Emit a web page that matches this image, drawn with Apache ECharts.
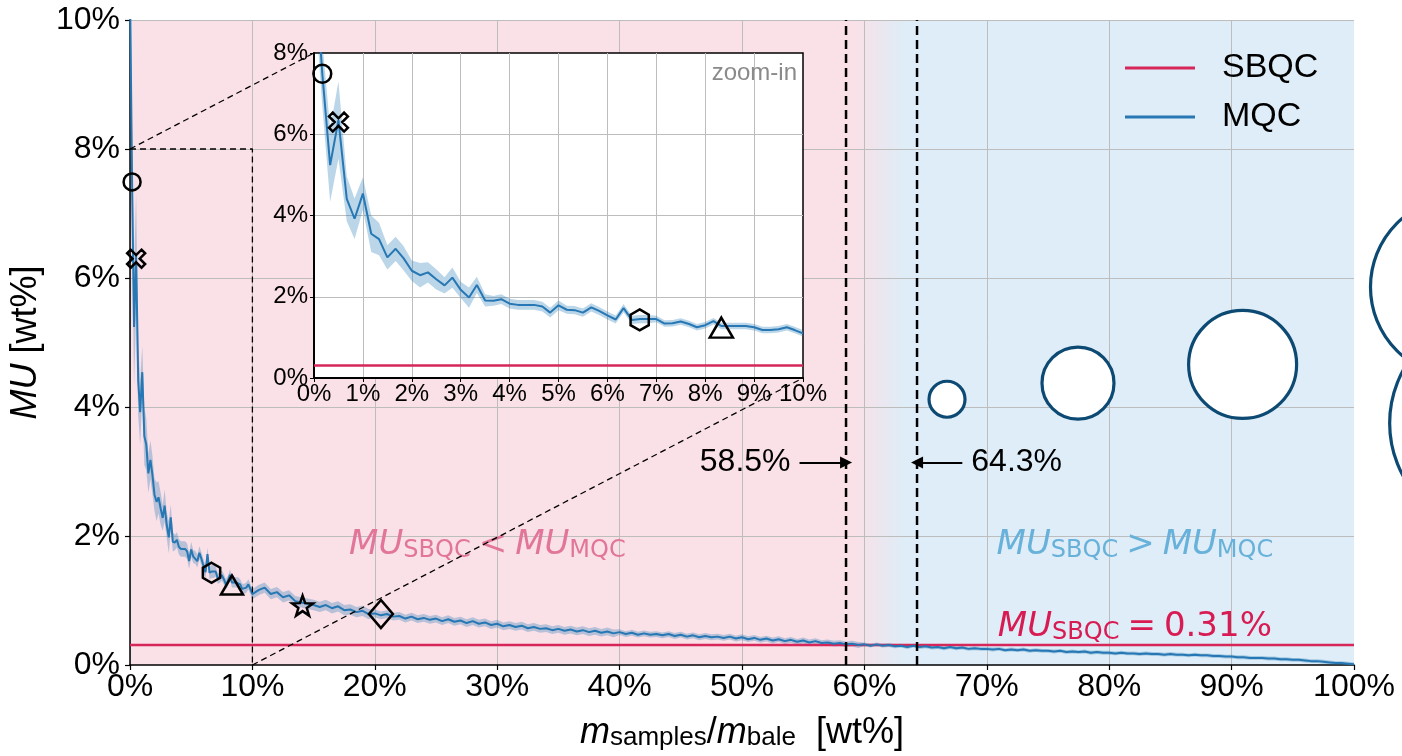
<!DOCTYPE html>
<html><head><meta charset="utf-8">
<script src="https://cdn.jsdelivr.net/npm/echarts@6/dist/echarts.min.js"></script>
<style>html,body{margin:0;padding:0;background:#fff}#c{width:1402px;height:756px}</style>
</head><body><div id="c"></div>
<script>
// ---------------- DATA ----------------
// MQC curve, first 10 % of the bale
const headX = [0,0.17,0.33,0.5,0.67,0.83, 1,1.17,1.33,1.5,1.67,1.83, 2,2.17,2.33,2.5,2.67,2.83,
  3,3.17,3.33,3.5,3.67,3.83, 4,4.17,4.33,4.5,4.67,4.83, 5,5.17,5.33,5.5,5.67,5.83,
  6,6.17,6.33,6.5,6.67,6.83, 7,7.17,7.33,7.5,7.67,7.83, 8,8.17,8.33,8.5,8.67,8.83,
  9,9.17,9.33,9.5,9.67,9.83, 10];
const headMU = [10.5,7.49,5.24,6.35,4.41,3.92, 4.54,3.55,3.42,2.97,3.18,2.95, 2.64,2.53,2.60,2.43,2.28,2.47,
  2.17,1.98,2.29,1.91,1.90,1.94, 1.83,1.80,1.80,1.80,1.76,1.61, 1.79,1.68,1.67,1.61,1.74,1.65,
  1.54,1.44,1.72,1.43,1.45,1.45, 1.45,1.34,1.35,1.39,1.33,1.25, 1.30,1.40,1.28,1.28,1.28,1.28,
  1.25,1.18,1.18,1.20,1.25,1.18, 1.10];
const headBand = [1.0,0.8,0.9,0.95,0.55,0.5, 0.4,0.45,0.4,0.3,0.3,0.3, 0.25,0.3,0.25,0.25,0.2,0.25,
  0.2,0.25,0.2,0.15,0.12,0.12, 0.12,0.12,0.12,0.12,0.12,0.12, 0.12,0.1,0.1,0.1,0.1,0.1,
  0.1,0.1,0.1,0.1,0.1,0.1, 0.08,0.08,0.08,0.08,0.08,0.08, 0.08,0.08,0.08,0.08,0.08,0.08,
  0.08,0.08,0.08,0.08,0.08,0.08, 0.08];
// MQC curve, 10 % .. 100 %
const tailX = [10.5,11,11.5,12,12.5,13,13.5,14,14.5,15,15.5,16,16.5,17,17.5,18,18.5,19,19.5,20,
  20.5,21,21.5,22,22.5,23,23.5,24,24.5,25,25.5,26,26.5,27,27.5,28,28.5,29,29.5,30,
  30.5,31,31.5,32,32.5,33,33.5,34,34.5,35,35.5,36,36.5,37,37.5,38,38.5,39,39.5,40,
  40.5,41,41.5,42,42.5,43,43.5,44,44.5,45,45.5,46,46.5,47,47.5,48,48.5,49,49.5,50,
  50.5,51,51.5,52,52.5,53,53.5,54,54.5,55,55.5,56,56.5,57,57.5,58,58.5,59,59.5,60,
  60.5,61,61.5,62,62.5,63,63.5,64,64.5,65,65.5,66,66.5,67,67.5,68,68.5,69,69.5,70,
  70.5,71,71.5,72,72.5,73,73.5,74,74.5,75,75.5,76,76.5,77,77.5,78,78.5,79,79.5,80,
  80.5,81,81.5,82,82.5,83,83.5,84,84.5,85,85.5,86,86.5,87,87.5,88,88.5,89,89.5,90,
  90.5,91,91.5,92,92.5,93,93.5,94,94.5,95,95.5,96,96.5,97,97.5,98,98.5,99,99.5,100];
const tailMU = [1.16,1.20,1.10,1.13,1.05,1.08,0.99,0.97,0.95,0.93,0.90,0.93,0.88,0.91,0.85,0.86,0.82,0.84,0.79,0.80,
  0.77,0.79,0.75,0.76,0.72,0.75,0.71,0.73,0.70,0.72,0.68,0.71,0.67,0.69,0.65,0.68,0.64,0.66,0.62,0.64,
  0.60,0.62,0.59,0.61,0.57,0.59,0.56,0.57,0.54,0.56,0.53,0.55,0.52,0.54,0.51,0.53,0.50,0.52,0.49,0.51,
  0.48,0.50,0.47,0.49,0.47,0.48,0.46,0.48,0.45,0.47,0.44,0.46,0.43,0.45,0.43,0.44,0.42,0.44,0.41,0.43,
  0.40,0.42,0.39,0.41,0.38,0.40,0.37,0.39,0.36,0.38,0.35,0.37,0.34,0.35,0.33,0.34,0.32,0.33,0.31,0.32,
  0.30,0.32,0.30,0.31,0.29,0.30,0.28,0.30,0.28,0.29,0.27,0.28,0.26,0.28,0.26,0.27,0.25,0.26,0.25,0.25,
  0.24,0.25,0.23,0.24,0.23,0.24,0.22,0.23,0.22,0.22,0.21,0.22,0.20,0.21,0.20,0.21,0.19,0.20,0.19,0.19,
  0.18,0.19,0.18,0.18,0.17,0.18,0.17,0.17,0.16,0.17,0.16,0.16,0.15,0.16,0.15,0.15,0.14,0.14,0.13,0.13,
  0.12,0.12,0.11,0.11,0.11,0.10,0.10,0.09,0.09,0.08,0.08,0.07,0.06,0.06,0.05,0.04,0.03,0.03,0.02,0.01];
// half-width of the MQC uncertainty band in the tail, per x-zone
const bandEdges = [10, 20, 40, 60];
const bandHalfTail = [0.08, 0.06, 0.045, 0.03];

const sbqcMU = 0.31;                 // single-bale QC value
const thresholds = [58.5, 64.3];     // break-even lines
const thresholdLabels = ['58.5%', '64.3%'];
const arrowTail = [54.7, 68.0];      // where each arrow starts (x)
const arrowY = 3.14;

const markerNames = ['circle','cross','hexagon','triangle','star','diamond'];
const markerX = [0.17, 0.5, 6.66, 8.33, 14.1, 20.5];
const markerY = [7.49, 6.3, 1.43, 1.24, 0.92, 0.79];

const bubbleX = [66.75, 77.45, 90.9, 108.7, 111.9];
const bubbleY = [4.12, 4.37, 4.66, 5.86, 3.75];
const bubbleD = [36, 72, 108, 180, 220];

const zoomX = [0, 10];
const zoomY = [0, 8];

const xTicksMain = [0, 100, 10];
const yTicksMain = [0, 10, 2];

const annoX = [29.2, 82.1, 82.1];
const annoY = [1.93, 1.93, 0.66];

// ---------------- STYLE ----------------
const MQC_COLOR = '#2677b3';
const SBQC_COLOR = '#d6265a';
const PINK = '#fae0e7';
const BLUE = '#deedf7';
const GRIDC = '#bdbdbd';
const FONT = 'Liberation Sans, Arial, sans-serif';
const MATH = 'DejaVu Sans, sans-serif';

const symbolPaths = {
  circle: 'circle',
  cross: 'path://M0.53,-0.884 L0.884,-0.53 L0.354,0 L0.884,0.53 L0.53,0.884 L0,0.354 L-0.53,0.884 L-0.884,0.53 L-0.354,0 L-0.884,-0.53 L-0.53,-0.884 L0,-0.354 Z',
  hexagon: 'path://M0,-1 L0.866,-0.5 L0.866,0.5 L0,1 L-0.866,0.5 L-0.866,-0.5 Z',
  triangle: 'triangle',
  star: 'path://M0,-1 L0.235,-0.324 L0.951,-0.309 L0.38,0.124 L0.588,0.809 L0,0.4 L-0.588,0.809 L-0.38,0.124 L-0.951,-0.309 L-0.235,-0.324 Z',
  diamond: 'diamond'
};
const symbolSizes = {circle:17, cross:18, hexagon:20, triangle:[22,19], star:21, diamond:[24,28]};

// ---------------- BUILD ----------------
const mainX = headX.concat(tailX);
const mainMU = headMU.concat(tailMU);
const mainBand = headBand.concat(tailX.map(x => {
  let h = bandHalfTail[0];
  for (let i = 0; i < bandEdges.length; i++) if (x >= bandEdges[i]) h = bandHalfTail[i];
  return h;
}));
const pairs = (xs, ys) => xs.map((x, i) => [x, ys[i]]);

function bandRenderer(xs, ys, hs) {
  return function (params, api) {
    const up = [], lo = [];
    for (let i = 0; i < xs.length; i++) {
      up.push(api.coord([xs[i], ys[i] + hs[i]]));
      lo.push(api.coord([xs[i], ys[i] - hs[i]]));
    }
    return {type: 'polygon', shape: {points: up.concat(lo.reverse())},
      style: {fill: 'rgba(31,119,180,0.30)'}};
  };
}

function markerData(filterFn, scale) {
  const out = [];
  markerNames.forEach((n, i) => {
    if (!filterFn(markerX[i])) return;
    const s = symbolSizes[n];
    out.push({value: [markerX[i], markerY[i]], symbol: symbolPaths[n],
      symbolSize: Array.isArray(s) ? s.map(v => v * scale) : s * scale});
  });
  return out;
}

const annoRich = (c) => ({
  mu: {fontFamily: MATH, fontStyle: 'italic', fontSize: 34, color: c, lineHeight: 44, verticalAlign: 'bottom'},
  up: {fontFamily: MATH, fontSize: 34, color: c, lineHeight: 44, verticalAlign: 'bottom'},
  sb: {fontFamily: MATH, fontSize: 24, color: c, lineHeight: 26, verticalAlign: 'bottom'},
  op: {fontFamily: MATH, fontSize: 34, color: c, lineHeight: 44, verticalAlign: 'bottom', padding: [0, 8, 0, 8]}
});
const annoTexts = [
  {f: '{mu|MU}{sb|SBQC}{op|<}{mu|MU}{sb|MQC}', c: '#e2769a'},
  {f: '{mu|MU}{sb|SBQC}{op|>}{mu|MU}{sb|MQC}', c: '#67b1da'},
  {f: '{mu|MU}{sb|SBQC}{op|=}{up|0.31%}', c: '#d81b52'}
];

const chart = echarts.init(document.getElementById('c'));

const option = {
  animation: false,
  backgroundColor: '#fff',
  grid: [
    {left: 130, top: 20, right: 48, bottom: 88, show: true, borderWidth: 0,
     backgroundColor: {type: 'linear', x: 0, y: 0, x2: 1, y2: 0, global: false,
       colorStops: [{offset: 0, color: PINK}, {offset: 0.592, color: PINK},
                    {offset: 0.633, color: BLUE}, {offset: 1, color: BLUE}]}},
    {left: 314, top: 53, width: 489, height: 325, show: true, backgroundColor: '#fff',
     borderColor: '#000', borderWidth: 1.5, z: 5}
  ],
  legend: {
    orient: 'vertical', left: 1120, top: 43, itemWidth: 70, itemHeight: 3, itemGap: 9,
    icon: 'rect', selectedMode: false,
    textStyle: {fontSize: 34, fontFamily: FONT, color: '#000', padding: [0, 0, 0, 22], lineHeight: 40},
    data: [{name: 'SBQC', itemStyle: {color: SBQC_COLOR}}, {name: 'MQC', itemStyle: {color: MQC_COLOR}}]
  },
  xAxis: [
    {type: 'value', gridIndex: 0, min: xTicksMain[0], max: xTicksMain[1], interval: xTicksMain[2],
     axisLine: {show: true, onZero: false, lineStyle: {color: '#000', width: 1.5}},
     axisTick: {show: true, length: 5, lineStyle: {color: '#000', width: 1.2}},
     splitLine: {show: true, showMaxLine: false, lineStyle: {color: GRIDC, width: 1}},
     axisLabel: {formatter: '{value}%', fontSize: 32, fontFamily: FONT, color: '#000', margin: 6},
     name: '{i|m}{s|samples}{n|/}{i|m}{s|bale}{n|  [wt%]}', nameLocation: 'middle', nameGap: 44,
     nameTextStyle: {rich: {
       i: {fontFamily: FONT, fontStyle: 'italic', fontSize: 36, lineHeight: 42, verticalAlign: 'bottom', color: '#000'},
       s: {fontFamily: FONT, fontSize: 26, lineHeight: 28, verticalAlign: 'bottom', color: '#000'},
       n: {fontFamily: FONT, fontSize: 36, lineHeight: 42, verticalAlign: 'bottom', color: '#000'}}}},
    {type: 'value', gridIndex: 1, min: zoomX[0], max: zoomX[1], interval: 1, z: 6,
     axisLine: {show: true, onZero: false, lineStyle: {color: '#000', width: 2}},
     axisTick: {show: true, length: 4, lineStyle: {color: '#000'}},
     splitLine: {show: true, showMinLine: false, showMaxLine: false, lineStyle: {color: GRIDC, width: 1}},
     axisLabel: {formatter: '{value}%', fontSize: 24, fontFamily: FONT, color: '#000', margin: 4}}
  ],
  yAxis: [
    {type: 'value', gridIndex: 0, min: yTicksMain[0], max: yTicksMain[1], interval: yTicksMain[2],
     axisLine: {show: true, onZero: false, lineStyle: {color: '#000', width: 1.5}},
     axisTick: {show: true, length: 5, lineStyle: {color: '#000', width: 1.2}},
     splitLine: {show: true, showMinLine: false, lineStyle: {color: GRIDC, width: 1}},
     axisLabel: {formatter: '{value}%', fontSize: 32, fontFamily: FONT, color: '#000', margin: 10},
     name: '{i|MU}{n| [wt%]}', nameLocation: 'middle', nameRotate: 90, nameGap: 86,
     nameTextStyle: {rich: {
       i: {fontFamily: FONT, fontStyle: 'italic', fontSize: 36, color: '#000'},
       n: {fontFamily: FONT, fontSize: 36, color: '#000'}}}},
    {type: 'value', gridIndex: 1, min: zoomY[0], max: zoomY[1], interval: 2, z: 6,
     axisLine: {show: true, onZero: false, lineStyle: {color: '#000', width: 2}},
     axisTick: {show: true, length: 4, lineStyle: {color: '#000'}},
     splitLine: {show: true, showMinLine: false, showMaxLine: false, lineStyle: {color: GRIDC, width: 1}},
     axisLabel: {formatter: '{value}%', fontSize: 24, fontFamily: FONT, color: '#000', margin: 6}}
  ],
  series: [
    // SBQC reference line (main)
    {name: 'SBQC', type: 'line', xAxisIndex: 0, yAxisIndex: 0, z: 2, showSymbol: false, silent: true,
     data: [[xTicksMain[0], sbqcMU], [xTicksMain[1], sbqcMU]],
     lineStyle: {color: SBQC_COLOR, width: 2.5}, itemStyle: {color: SBQC_COLOR}},
    // MQC band (main)
    {name: 'MQC band', type: 'custom', xAxisIndex: 0, yAxisIndex: 0, z: 2, clip: true, silent: true,
     renderItem: bandRenderer(mainX, mainMU, mainBand), data: [[0, 0]]},
    // MQC line (main)
    {name: 'MQC', type: 'line', xAxisIndex: 0, yAxisIndex: 0, z: 3, showSymbol: false, silent: true, clip: true,
     data: pairs(mainX, mainMU), lineStyle: {color: MQC_COLOR, width: 2}, itemStyle: {color: MQC_COLOR}},
    // zoom box (dashed)
    {name: 'zoombox', type: 'line', xAxisIndex: 0, yAxisIndex: 0, z: 3, showSymbol: false, silent: true,
     data: [[zoomX[0], zoomY[1]], [zoomX[1], zoomY[1]], [zoomX[1], zoomY[0]]],
     lineStyle: {color: '#000', width: 1.3, type: [6, 4]}},
    // break-even dashed verticals
    ...thresholds.map(t => ({name: 'thr' + t, type: 'line', xAxisIndex: 0, yAxisIndex: 0, z: 3,
      showSymbol: false, silent: true, data: [[t, yTicksMain[0]], [t, yTicksMain[1]]],
      lineStyle: {color: '#000', width: 2.5, type: [9, 5]}})),
    // arrows with labels
    {name: 'arrows', type: 'line', xAxisIndex: 0, yAxisIndex: 0, z: 4, data: [], silent: true,
     markLine: {silent: true, symbol: ['none', 'triangle'], symbolSize: 12, animation: false,
       lineStyle: {color: '#000', width: 2, type: 'solid'},
       label: {show: true, position: 'start', formatter: '{b}', fontSize: 32, fontFamily: FONT, color: '#000', distance: 9},
       data: thresholds.map((t, i) => [{coord: [arrowTail[i], arrowY], name: thresholdLabels[i]}, {coord: [t, arrowY]}])}},
    // region annotations
    {name: 'anno', type: 'scatter', xAxisIndex: 0, yAxisIndex: 0, z: 3, symbolSize: 0, silent: true,
     itemStyle: {opacity: 1},
     data: annoX.map((x, i) => ({value: [x, annoY[i]],
       label: {show: true, position: 'inside', formatter: annoTexts[i].f, rich: annoRich(annoTexts[i].c)}}))},
    // sample markers (main)
    {name: 'markers', type: 'scatter', xAxisIndex: 0, yAxisIndex: 0, z: 4, silent: true, clip: false,
     symbolKeepAspect: true,
     itemStyle: {color: 'transparent', borderColor: '#000', borderWidth: 2.5, opacity: 1},
     data: markerData(() => true, 1)},
    // bubbles
    {name: 'bubbles', type: 'scatter', xAxisIndex: 0, yAxisIndex: 0, z: 4, silent: true, clip: false,
     itemStyle: {color: '#fff', borderColor: '#0d4a73', borderWidth: 3.2, opacity: 1},
     data: bubbleX.map((x, i) => ({value: [x, bubbleY[i]], symbolSize: bubbleD[i]}))},
    // ---- inset ----
    {name: 'SBQC', type: 'line', xAxisIndex: 1, yAxisIndex: 1, z: 7, showSymbol: false, silent: true,
     data: [[zoomX[0], sbqcMU], [zoomX[1], sbqcMU]],
     lineStyle: {color: SBQC_COLOR, width: 2.5}, itemStyle: {color: SBQC_COLOR}},
    {name: 'MQC band', type: 'custom', xAxisIndex: 1, yAxisIndex: 1, z: 7, clip: true, silent: true,
     renderItem: bandRenderer(headX, headMU, headBand), data: [[0, 0]]},
    {name: 'MQC', type: 'line', xAxisIndex: 1, yAxisIndex: 1, z: 8, showSymbol: false, silent: true, clip: true,
     data: pairs(headX, headMU), lineStyle: {color: MQC_COLOR, width: 2}, itemStyle: {color: MQC_COLOR}},
    {name: 'markers', type: 'scatter', xAxisIndex: 1, yAxisIndex: 1, z: 9, silent: true, clip: false,
     symbolKeepAspect: true,
     itemStyle: {color: 'transparent', borderColor: '#000', borderWidth: 2.5, opacity: 1},
     data: markerData(x => x <= zoomX[1], 1.05)},
    {name: 'zoomlabel', type: 'scatter', xAxisIndex: 1, yAxisIndex: 1, z: 9, symbolSize: 0, silent: true,
     itemStyle: {opacity: 1},
     data: [{value: [zoomX[1], zoomY[1]], label: {show: true, position: 'inside', offset: [-6, 20],
       align: 'right', verticalAlign: 'middle', formatter: 'zoom-in', fontSize: 24, fontFamily: FONT, color: '#8a8a8a'}}]}
  ]
};
chart.setOption(option);

// connector lines from zoom box to the inset corners
const a = chart.convertToPixel({gridIndex: 0}, [zoomX[0], zoomY[1]]);
const b = chart.convertToPixel({gridIndex: 1}, [zoomX[0], zoomY[1]]);
const c = chart.convertToPixel({gridIndex: 0}, [zoomX[1], zoomY[0]]);
const d = chart.convertToPixel({gridIndex: 1}, [zoomX[1], zoomY[0]]);
chart.setOption({graphic: [
  {type: 'line', z: 4, silent: true, shape: {x1: a[0], y1: a[1], x2: b[0], y2: b[1]},
   style: {stroke: '#000', lineWidth: 1.3, lineDash: [6, 4]}},
  {type: 'line', z: 4, silent: true, shape: {x1: c[0], y1: c[1], x2: d[0], y2: d[1]},
   style: {stroke: '#000', lineWidth: 1.3, lineDash: [6, 4]}}
]});
</script>
</body></html>
